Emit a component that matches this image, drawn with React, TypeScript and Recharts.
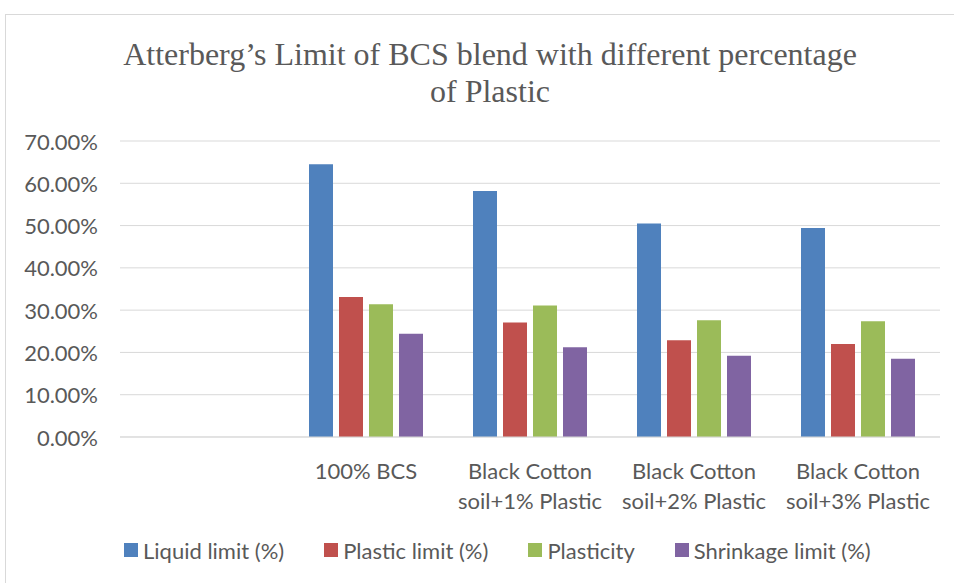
import React from "react";
import { BarChart, Bar, XAxis, YAxis, CartesianGrid, Legend } from "recharts";

// first category is left blank in the original sheet
const categories = [
  "",
  "100% BCS",
  "Black Cotton\nsoil+1% Plastic",
  "Black Cotton\nsoil+2% Plastic",
  "Black Cotton\nsoil+3% Plastic",
];
const liquidLimit = [null, 64.5, 58.2, 50.5, 49.4];
const plasticLimit = [null, 33.1, 27.1, 22.9, 22.0];
const plasticity = [null, 31.4, 31.1, 27.6, 27.4];
const shrinkageLimit = [null, 24.4, 21.2, 19.2, 18.5];
const yTicks = [0, 10, 20, 30, 40, 50, 60, 70];

const seriesInfo = [
  { key: "liquid", name: "Liquid limit (%)", color: "#4F81BD" },
  { key: "plastic", name: "Plastic limit (%)", color: "#C0504D" },
  { key: "plasticity", name: "Plasticity", color: "#9BBB59" },
  { key: "shrinkage", name: "Shrinkage limit (%)", color: "#8064A2" },
];

const data = categories.map((c, i) => ({
  category: c,
  liquid: liquidLimit[i],
  plastic: plasticLimit[i],
  plasticity: plasticity[i],
  shrinkage: shrinkageLimit[i],
}));

const FONT = "Lato, 'Open Sans', sans-serif";
const FS = 22;
const TEXT = "#595959";

function XTick(props: any) {
  const { x, y, payload } = props;
  const lines = String(payload.value).split("\n");
  return (
    <g>
      {lines.map((line: string, i: number) => (
        <text
          key={i}
          x={x}
          y={y + 25 + i * 30}
          textAnchor="middle"
          dominantBaseline="central"
          fontFamily={FONT}
          fontSize={FS}
          fill={TEXT}
        >
          {line}
        </text>
      ))}
    </g>
  );
}

function YTick(props: any) {
  const { x, y, payload } = props;
  return (
    <text
      x={x - 14}
      y={y}
      textAnchor="end"
      dominantBaseline="central"
      fontFamily={FONT}
      fontSize={FS}
      fill={TEXT}
    >
      {payload.value.toFixed(2) + "%"}
    </text>
  );
}

function LegendBox() {
  return (
    <div
      style={{
        display: "flex",
        alignItems: "center",
        height: 30,
        paddingLeft: 124,
        fontFamily: FONT,
        fontSize: FS,
        color: TEXT,
        whiteSpace: "nowrap",
      }}
    >
      {seriesInfo.map((s, i) => (
        <div
          key={s.key}
          style={{ display: "flex", alignItems: "center", marginRight: i < 3 ? 40 : 0 }}
        >
          <span style={{ width: 14, height: 14, background: s.color, marginRight: 5 }} />
          <span>{s.name}</span>
        </div>
      ))}
    </div>
  );
}

export default function App() {
  return (
    <div
      style={{
        position: "fixed",
        left: 0,
        top: 0,
        width: 954,
        height: 583,
        background: "#fff",
        overflow: "hidden",
      }}
    >
      <div
        style={{
          position: "absolute",
          left: 5,
          top: 14,
          width: 980,
          height: 620,
          border: "1px solid #d9d9d9",
        }}
      />
      <div
        style={{
          position: "absolute",
          left: 0,
          top: 36,
          width: 980,
          textAlign: "center",
          fontFamily: "'Liberation Serif', 'Times New Roman', serif",
          fontSize: 32,
          lineHeight: "37px",
          color: TEXT,
        }}
      >
        <div>Atterberg’s Limit of BCS blend with different percentage</div>
        <div>of Plastic</div>
      </div>
      <div style={{ position: "absolute", left: 0, top: 0 }}>
        <BarChart
          width={954}
          height={583}
          data={data}
          margin={{ top: 141, right: 14, left: 0, bottom: 18 }}
          barSize={24}
          barGap={6}
        >
          <CartesianGrid vertical={false} stroke="#d9d9d9" strokeWidth={1} />
          <XAxis
            dataKey="category"
            height={98}
            interval={0}
            tickLine={false}
            axisLine={{ stroke: "#d9d9d9" }}
            tick={<XTick />}
          />
          <YAxis
            width={120}
            domain={[0, 70]}
            ticks={yTicks}
            axisLine={false}
            tickLine={false}
            tick={<YTick />}
          />
          <Legend verticalAlign="bottom" content={<LegendBox />} wrapperStyle={{ left: 0, width: 954 }} />
          {seriesInfo.map((s) => (
            <Bar key={s.key} dataKey={s.key} name={s.name} fill={s.color} isAnimationActive={false} />
          ))}
        </BarChart>
      </div>
    </div>
  );
}
